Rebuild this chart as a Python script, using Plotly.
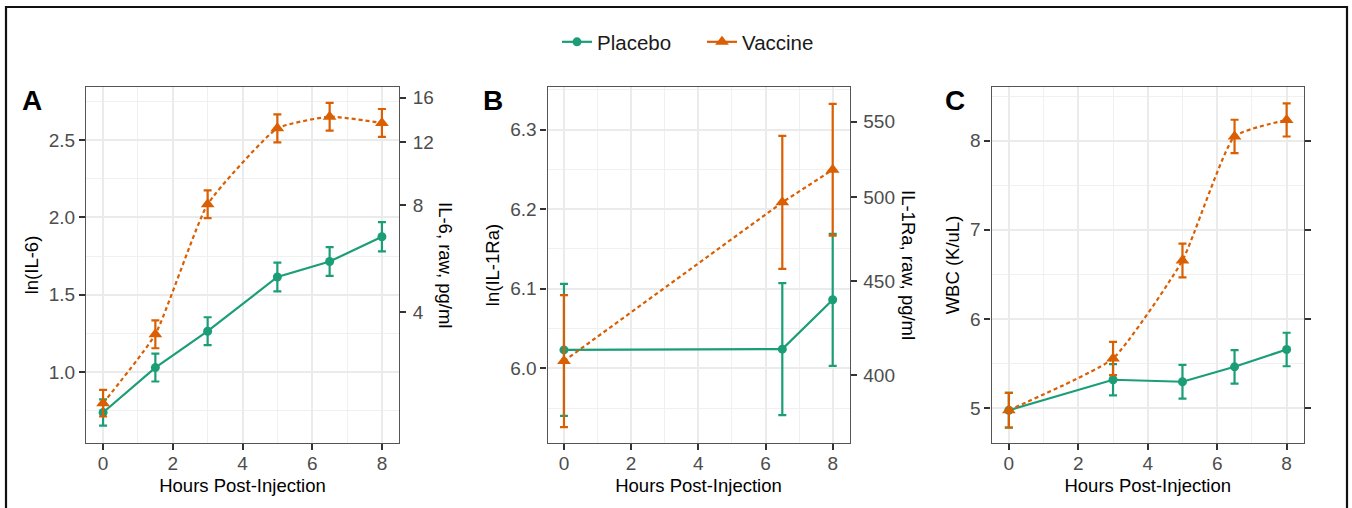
import numpy as np
import plotly.graph_objects as go

# ---------------- data ----------------
hours_a = [0, 1.5, 3, 5, 6.5, 8]
il6_placebo = [0.74, 1.03, 1.265, 1.615, 1.715, 1.875]
il6_placebo_se = [0.085, 0.09, 0.09, 0.093, 0.093, 0.095]
il6_vaccine = [0.80, 1.245, 2.085, 2.575, 2.65, 2.61]
il6_vaccine_se = [0.086, 0.09, 0.09, 0.09, 0.09, 0.09]

hours_b = [0, 6.5, 8]
il1ra_placebo = [6.023, 6.024, 6.086]
il1ra_placebo_se = [0.083, 0.083, 0.083]
il1ra_vaccine = [6.009, 6.2085, 6.2495]
il1ra_vaccine_se = [0.083, 0.0835, 0.0827]

hours_c = [0, 3, 5, 6.5, 8]
wbc_placebo = [4.974, 5.3165, 5.294, 5.4615, 5.656]
wbc_placebo_se = [0.195, 0.175, 0.19, 0.188, 0.188]
wbc_vaccine = [4.975, 5.555, 6.656, 8.049, 8.234]
wbc_vaccine_se = [0.195, 0.187, 0.19, 0.187, 0.186]

x_ticks = [0, 2, 4, 6, 8]
il6_raw_ticks = [4, 8, 12, 16]
il1ra_raw_ticks = [400, 450, 500, 550]
wbc_ticks = [5, 6, 7, 8]

groups = ["Placebo", "Vaccine"]

# ---------------- styles ----------------
GREEN = "#1B9E77"
ORANGE = "#D95F02"
FONT = "Liberation Sans, Arial, sans-serif"
TICK_FONT = dict(family=FONT, size=19, color="#4D4D4D")
TITLE_FONT = dict(family=FONT, size=18.5, color="#000000")
W, H = 1352, 508

ydom = [65 / H, 421 / H]
xdom_a = [86 / W, 399 / W]
xdom_b = [547.5 / W, 849.5 / W]
xdom_c = [991.5 / W, 1304 / W]

fig = go.Figure()


def add_series(x, y, se, color, symbol, dash, shape, xa, ya, msize):
    fig.add_trace(go.Scatter(
        x=x, y=y, mode="lines+markers", xaxis=xa, yaxis=ya,
        line=dict(color=color, width=2.2, dash=dash, shape=shape, smoothing=0.45),
        marker=dict(color=color, symbol=symbol, size=msize),
        error_y=dict(type="data", array=se, visible=True, color=color,
                     thickness=2.2, width=4),
        showlegend=False, hoverinfo="x+y"))


def add_axis_holder(x, y, xa, ya):
    # invisible trace so that the secondary (raw-scale) axis is drawn
    fig.add_trace(go.Scatter(x=x, y=y, mode="markers", xaxis=xa, yaxis=ya,
                             marker=dict(opacity=0, size=1), hoverinfo="skip",
                             showlegend=False))


# Panel A
add_series(hours_a, il6_placebo, il6_placebo_se, GREEN, "circle", "solid", "linear", "x", "y", 9)
add_series(hours_a, il6_vaccine, il6_vaccine_se, ORANGE, "triangle-up", "4px,3px", "spline", "x", "y", 12)
add_axis_holder(hours_a, il6_placebo, "x", "y4")
# Panel B
add_series(hours_b, il1ra_placebo, il1ra_placebo_se, GREEN, "circle", "solid", "linear", "x2", "y2", 9)
add_series(hours_b, il1ra_vaccine, il1ra_vaccine_se, ORANGE, "triangle-up", "4px,3px", "linear", "x2", "y2", 12)
add_axis_holder(hours_b, il1ra_placebo, "x2", "y5")
# Panel C
add_series(hours_c, wbc_placebo, wbc_placebo_se, GREEN, "circle", "solid", "linear", "x3", "y3", 9)
add_series(hours_c, wbc_vaccine, wbc_vaccine_se, ORANGE, "triangle-up", "4px,3px", "spline", "x3", "y3", 12)
add_axis_holder(hours_c, wbc_placebo, "x3", "y6")

# legend entries (solid lines as in reference)
for name, color, symbol, ms in [(groups[0], GREEN, "circle", 9), (groups[1], ORANGE, "triangle-up", 12)]:
    fig.add_trace(go.Scatter(x=[None], y=[None], mode="lines+markers", name=name,
                             line=dict(color=color, width=2.2),
                             marker=dict(color=color, symbol=symbol, size=ms),
                             showlegend=True))

grid_major = dict(showgrid=True, gridcolor="#EBEBEB", gridwidth=1.5)
grid_minor = dict(showgrid=True, gridcolor="#F0F0F0", gridwidth=1.1)


def xaxis(domain, anchor, rng):
    return dict(domain=domain, anchor=anchor, range=rng, tickvals=x_ticks,
                ticks="outside", ticklen=6, tickwidth=1.6, tickcolor="#333333",
                showline=True, linecolor="#555555", linewidth=1.3, mirror=True,
                tickfont=TICK_FONT, zeroline=False, automargin=False,
                ticklabelstandoff=-3,
                title=dict(text="Hours Post-Injection", font=TITLE_FONT, standoff=6),
                minor=dict(dtick=1, tick0=0, **grid_minor),
                **grid_major)


def yaxis(anchor, rng, dtick, minor_dtick, title, standoff=5):
    return dict(domain=ydom, anchor=anchor, range=rng, dtick=dtick, tick0=0,
                ticks="outside", ticklen=6, tickwidth=1.6, tickcolor="#333333",
                showline=True, linecolor="#555555", linewidth=1.3, mirror=True,
                tickfont=TICK_FONT, zeroline=False, automargin=False,
                tickformat=".1f" if dtick < 1 else "d",
                title=dict(text=title, font=TITLE_FONT, standoff=standoff),
                minor=dict(dtick=minor_dtick, tick0=0, **grid_minor),
                **grid_major)


def right_axis(anchor, overlay, rng, vals, text, show_labels=True):
    return dict(overlaying=overlay, anchor=anchor, side="right", range=rng,
                tickvals=vals, ticktext=text, showticklabels=show_labels,
                ticks="outside", ticklen=6, tickwidth=1.6, tickcolor="#333333",
                showgrid=False, zeroline=False, showline=False, tickfont=TICK_FONT,
                ticklabelstandoff=3, automargin=False)


rng_a = [0.543, 2.842]
rng_b = [5.906, 6.3535]
rng_c = [4.606, 8.604]

fig.update_layout(
    width=W, height=H, margin=dict(l=0, r=0, t=0, b=0),
    paper_bgcolor="white", plot_bgcolor="white",
    font=dict(family=FONT),
    xaxis=xaxis(xdom_a, "y", [-0.49, 8.49]),
    yaxis=yaxis("x", rng_a, 0.5, 0.25, "ln(IL-6)"),
    xaxis2=xaxis(xdom_b, "y2", [-0.49, 8.5]),
    yaxis2=yaxis("x2", rng_b, 0.1, 0.05, "ln(IL-1Ra)"),
    xaxis3=xaxis(xdom_c, "y3", [-0.5, 8.5]),
    yaxis3=yaxis("x3", rng_c, 1, 0.5, "WBC (K/uL)"),
    yaxis4=right_axis("x", "y", rng_a, list(np.log(il6_raw_ticks)), [str(v) for v in il6_raw_ticks]),
    yaxis5=right_axis("x2", "y2", rng_b, list(np.log(il1ra_raw_ticks)), [str(v) for v in il1ra_raw_ticks]),
    yaxis6=right_axis("x3", "y3", rng_c, wbc_ticks, [str(v) for v in wbc_ticks], show_labels=False),
    legend=dict(orientation="h", x=557 / W, xanchor="left", y=1 - 42 / H, yanchor="middle",
                font=dict(family=FONT, size=20.5, color="#1A1A1A"), bgcolor="rgba(0,0,0,0)",
                itemwidth=30, entrywidth=100, entrywidthmode="pixels"),
    showlegend=True,
)

# panel letters
for letter, xp in [("A", 32), ("B", 493), ("C", 955)]:
    fig.add_annotation(x=xp / W, y=1 - 101 / H, xref="paper", yref="paper",
                       text=f"<b>{letter}</b>", showarrow=False, xanchor="center", yanchor="middle",
                       font=dict(family=FONT, size=28, color="#000000"))

# right axis titles (reading top to bottom)
for txt, xp in [("IL-6, raw, pg/ml", 446), ("IL-1Ra, raw, pg/ml", 909)]:
    fig.add_annotation(x=xp / W, y=1 - 265 / H, xref="paper", yref="paper", text=txt,
                       textangle=90, showarrow=False, xanchor="center", yanchor="middle",
                       font=TITLE_FONT)

# outer frame
fig.add_shape(type="rect", xref="paper", yref="paper", x0=6 / W, x1=1347 / W,
              y0=-0.05, y1=1 - 7 / H, line=dict(color="#111111", width=2.2))

fig.write_html("out.html", config={"displayModeBar": False},
               post_script="document.body.style.margin='0px';document.body.style.overflow='hidden';")
